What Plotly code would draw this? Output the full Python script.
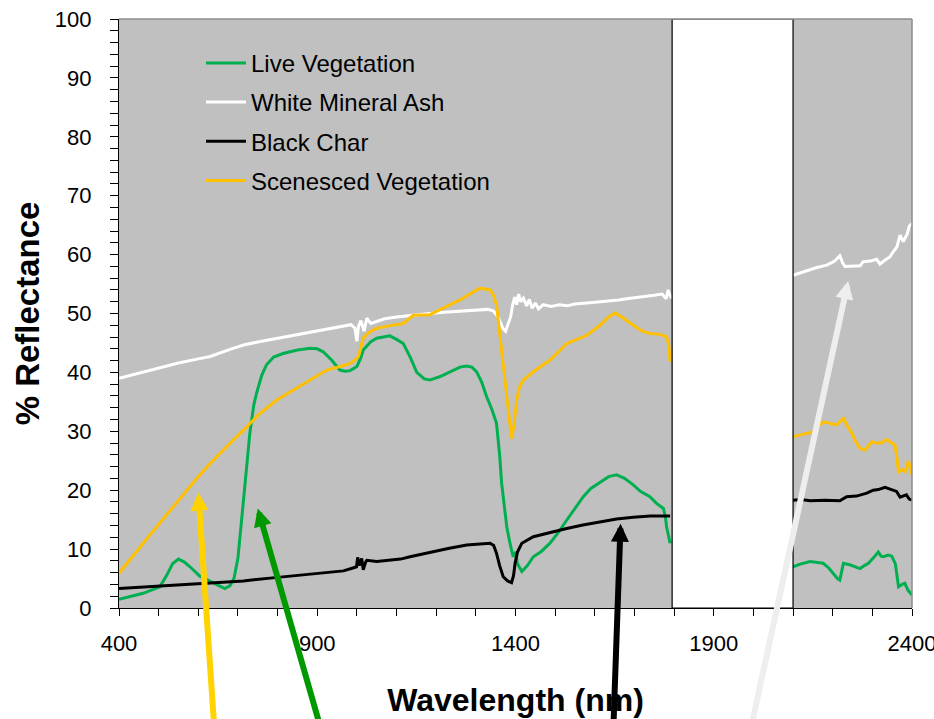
import plotly.graph_objects as go

# ---------------- data ----------------
# Live Vegetation
live_wl_a = [400,430,461,503,520,535,550,565,579,604,638,667,680,690,700,707,714,722,730,740,747,760,772,790,814,850,882,900,915,936,957,970,983,1000,1010,1016,1035,1050,1083,1100,1117,1135,1151,1170,1184,1210,1235,1260,1277,1290,1302,1315,1327,1340,1352,1360,1365,1372,1378,1386,1394,1400,1405,1416,1430,1445,1465,1487,1510,1529,1550,1571,1590,1613,1635,1655,1675,1697,1715,1739,1755,1773,1778,1781,1786,1790]
live_val_a = [1.5,2.0,2.5,3.6,5.5,7.5,8.3,7.8,7.0,5.4,4.2,3.3,3.8,5.0,8.5,13,18.3,24,29.7,34.5,36.5,39.5,41.3,42.6,43.2,43.8,44.1,44.0,43.5,42.1,40.4,40.2,40.3,41.0,42.5,43.8,45.2,45.8,46.2,45.6,44.9,42.5,40.0,38.9,38.7,39.3,40.1,40.9,41.1,40.9,40.1,38.3,35.9,33.8,31.4,26,21.2,17,13.8,11,8.7,9.5,7.5,6.2,7.2,8.7,9.6,11,13,14.9,17,18.9,20.3,21.4,22.3,22.6,22.0,20.9,19.8,18.9,17.8,16.9,15.5,13.8,12.5,11]
live_wl_b = [2100,2120,2143,2160,2176,2190,2201,2212,2218,2224,2227,2245,2269,2280,2290,2305,2315,2322,2328,2340,2349,2358,2362,2366,2375,2382,2390,2400]
live_val_b = [7.0,7.5,7.9,7.8,7.6,6.8,5.9,5.0,4.75,6.5,7.6,7.3,6.7,7.2,7.6,8.7,9.5,8.8,8.7,9.0,8.8,7.5,5.5,3.6,4.0,4.2,3.0,2.2]

# White Mineral Ash
ash_wl_a = [400,450,500,550,600,630,680,714,760,800,840,880,920,966,985,995,1000,1004,1010,1018,1025,1035,1050,1070,1100,1150,1184,1220,1260,1300,1330,1345,1355,1362,1368,1375,1382,1388,1393,1398,1403,1408,1413,1420,1428,1435,1442,1450,1458,1470,1490,1510,1530,1550,1580,1600,1630,1660,1690,1720,1750,1770,1780,1785,1790,1795]
ash_val_a = [39.0,39.9,40.8,41.6,42.3,42.7,43.9,44.65,45.3,45.8,46.3,46.8,47.2,47.8,48.1,47.5,45.3,47.8,48.8,47.0,49.2,48.3,48.6,49.1,49.4,49.8,50.0,50.2,50.4,50.6,50.7,50.4,49.5,48.5,47.5,47.0,48.5,49.5,51.5,52.8,51.5,53.3,52.0,52.6,51.3,52.4,50.9,51.8,50.8,51.5,51.2,51.5,51.3,51.6,51.8,51.9,52.1,52.3,52.6,52.8,53.1,53.3,52.5,54.0,53.0,52.6]
ash_wl_b = [2100,2130,2160,2185,2205,2218,2225,2231,2250,2269,2277,2295,2311,2319,2335,2344,2353,2362,2370,2378,2388,2393,2400]
ash_val_b = [56.5,57.2,57.8,58.2,58.9,59.8,58.6,58.0,58.0,58.1,58.8,58.9,59.2,58.4,59.2,59.6,60.5,61.3,63.3,62.2,63.5,64.8,65.3]

# Black Char
char_wl_a = [400,450,503,560,630,714,800,882,966,990,999,1002,1006,1012,1016,1022,1025,1050,1080,1110,1134,1160,1193,1230,1277,1310,1336,1345,1352,1360,1369,1380,1390,1395,1399,1405,1416,1445,1490,1529,1570,1613,1655,1697,1740,1790]
char_val_a = [3.3,3.5,3.7,3.95,4.2,4.6,5.2,5.8,6.3,6.8,7.0,8.6,7.2,8.4,6.5,7.8,8.1,7.9,8.1,8.3,8.7,9.1,9.6,10.1,10.7,10.9,11.0,10.6,9.3,7.2,5.3,4.6,4.3,5.5,7.6,9.5,11.0,12.1,12.9,13.5,14.1,14.65,15.1,15.4,15.6,15.6]
char_wl_b = [2100,2120,2143,2180,2218,2235,2260,2286,2302,2315,2332,2345,2361,2370,2386,2393,2400]
char_val_b = [18.3,18.4,18.2,18.3,18.2,18.9,19.0,19.5,20.0,20.1,20.5,20.2,19.8,18.8,19.2,18.5,18.3]

# Scenesced Vegetation
sen_wl_a = [400,430,461,500,545,596,625,655,685,714,755,798,840,882,924,974,990,1004,1010,1016,1030,1050,1080,1117,1142,1184,1220,1260,1290,1310,1336,1345,1352,1358,1365,1376,1384,1390,1396,1403,1410,1420,1445,1465,1487,1510,1529,1555,1580,1613,1635,1651,1670,1697,1720,1739,1760,1781,1787,1790]
sen_val_a = [5.9,8.5,11.0,14.2,17.9,22.0,24.2,26.3,28.3,30.2,33.0,35.3,37.0,38.7,40.4,41.3,41.8,42.7,44.5,45.8,46.8,47.5,47.9,48.3,49.7,49.8,51.0,52.3,53.5,54.3,54.0,53.0,51.5,48,43.8,37.6,32,28.8,31,35.3,37.5,38.7,40.1,41.0,42.1,43.6,44.9,45.6,46.3,48.0,49.4,50.1,49.3,48.0,47.0,46.6,46.5,46.1,44.5,41.8]
sen_wl_b = [2100,2125,2151,2165,2176,2195,2210,2227,2236,2248,2260,2269,2281,2290,2298,2310,2323,2335,2344,2357,2362,2366,2375,2382,2391,2395,2400]
sen_val_b = [29.1,29.5,29.9,31.0,31.6,31.3,31.1,32.2,31.0,29.7,28.0,27.1,26.8,27.5,28.2,28.0,28.0,28.6,28.2,27.7,25.5,23.1,23.5,23.1,25.0,24.0,22.6]

series_names = ["Live Vegetation", "White Mineral Ash", "Black Char", "Scenesced Vegetation"]
series_colors = ["#00B050", "#FFFFFF", "#000000", "#FFC000"]

# masked water-absorption band
gap_start, gap_end = 1795, 2100

# arrows: (tip wavelength, tip value, tail wavelength, tail value, colour)
arrow_tip_wl = [600, 750, 1665, 2239]
arrow_tip_val = [19.6, 16.9, 14.3, 55.5]
arrow_tail_wl = [640, 907, 1647, 1995]
arrow_tail_val = [-20, -20, -20, -20]
arrow_colors = ["#FFD200", "#009A00", "#000000", "#EEEEEE"]

x_ticks = [400, 900, 1400, 1900, 2400]
y_ticks = list(range(0, 101, 10))

# ---------------- figure ----------------
fig = go.Figure()
all_data = [
    (live_wl_a, live_val_a, live_wl_b, live_val_b),
    (ash_wl_a, ash_val_a, ash_wl_b, ash_val_b),
    (char_wl_a, char_val_a, char_wl_b, char_val_b),
    (sen_wl_a, sen_val_a, sen_wl_b, sen_val_b),
]
for i, (wa, va, wb, vb) in enumerate(all_data):
    fig.add_trace(go.Scatter(
        x=wa + [None] + wb, y=va + [None] + vb,
        mode="lines", name=series_names[i],
        line=dict(color=series_colors[i], width=3),
        legendgroup=str(i),
        connectgaps=False,
    ))

fig.add_shape(type="rect", xref="x", yref="y", x0=gap_start, x1=gap_end, y0=0, y1=100,
              fillcolor="white", line=dict(color="black", width=1.2), layer="above")
# top/right frame (grey)
fig.add_shape(type="line", xref="paper", yref="paper", x0=0, x1=1, y0=1, y1=1,
              line=dict(color="#8C8C8C", width=1.5))
fig.add_shape(type="line", xref="paper", yref="paper", x0=1, x1=1, y0=0, y1=1,
              line=dict(color="#8C8C8C", width=1.5))

for tw, tv, aw, av, c in zip(arrow_tip_wl, arrow_tip_val, arrow_tail_wl, arrow_tail_val, arrow_colors):
    fig.add_annotation(x=tw, y=tv, ax=aw, ay=av, xref="x", yref="y", axref="x", ayref="y",
                       text="", showarrow=True, arrowhead=2, arrowsize=0.6, arrowwidth=6,
                       arrowcolor=c, standoff=0)

font_family = "Liberation Sans, Arial, sans-serif"
fig.update_layout(
    width=934, height=719,
    margin=dict(l=119, r=22, t=19, b=111, autoexpand=False),
    paper_bgcolor="white", plot_bgcolor="#C0C0C0",
    font=dict(family=font_family, color="black"),
    showlegend=True,
    legend=dict(x=0.1034, y=0.963, xanchor="left", yanchor="top",
                bgcolor="rgba(0,0,0,0)", font=dict(size=24, family=font_family),
                tracegroupgap=5, traceorder="grouped", itemwidth=40),
    xaxis=dict(range=[400, 2400], tickvals=x_ticks, ticks="outside", ticklen=7,
               tickcolor="black", showline=True, linecolor="black", linewidth=1.2,
               showgrid=False, zeroline=False, tickfont=dict(size=22),
               ticklabelstandoff=8, ticklabeloverflow="allow", automargin=False,
               minor=dict(dtick=100, ticks="outside", ticklen=7, tickcolor="black", showgrid=False),
               title=dict(text="<b>Wavelength (nm)</b>", font=dict(size=32), standoff=34)),
    yaxis=dict(range=[0, 100], tickvals=y_ticks, ticks="outside", ticklen=8,
               tickcolor="black", showline=True, linecolor="black", linewidth=1.2,
               showgrid=False, zeroline=False, tickfont=dict(size=22),
               ticklabelstandoff=14, automargin=False,
               minor=dict(dtick=2, ticks="outside", ticklen=8, tickcolor="black", showgrid=False),
               title=dict(text="<b>% Reflectance</b>", font=dict(size=33), standoff=5)),
)

fig.write_html("out.html")
